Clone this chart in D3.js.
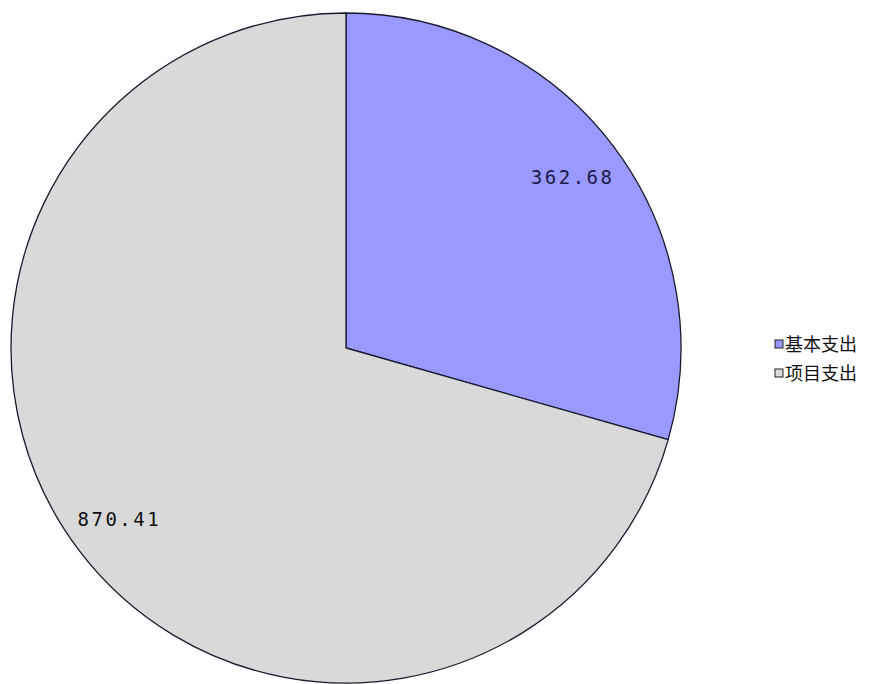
<!DOCTYPE html>
<html>
<head>
<meta charset="utf-8">
<script src="https://cdn.jsdelivr.net/npm/d3@7"></script>
<style>
body { margin: 0; background: #fff; }
</style>
</head>
<body>
<div id="chart"></div>
<script>
var svgWidth = 886;
var svgHeight = 684;

var categories = ["基本支出", "项目支出"];
var values = [362.68, 870.41];
var colors = ["#9999ff", "#d9d9d9"];

var cx = 346, cy = 348, radius = 335;

var svg = d3.select("#chart")
	.append("svg")
	.attr("width", svgWidth)
	.attr("height", svgHeight);

var pieGroup = svg.append("g")
	.attr("transform", `translate(${cx}, ${cy})`);

var pie = d3.pie().sort(null).value(d => d);
var arc = d3.arc().innerRadius(0).outerRadius(radius);
var labelArc = d3.arc().innerRadius(284).outerRadius(284);

var slices = pie(values);

pieGroup.selectAll("path")
	.data(slices)
	.enter()
	.append("path")
	.attr("d", arc)
	.attr("fill", (d, i) => colors[i])
	.attr("stroke", "#1a1a2e")
	.attr("stroke-width", 1.3);

pieGroup.selectAll("text")
	.data(slices)
	.enter()
	.append("text")
	.attr("transform", d => `translate(${labelArc.centroid(d)})`)
	.attr("text-anchor", "middle")
	.attr("dy", "0.38em")
	.style("font-family", "'DejaVu Sans Mono', monospace")
	.style("font-size", "19px")
	.style("letter-spacing", "2.5px")
	.attr("fill", (d, i) => i === 0 ? "#1a1a4a" : "#111")
	.text(d => d.data.toFixed(2));

// legend
var legend = svg.append("g")
	.attr("transform", "translate(775, 339)");

var items = legend.selectAll("g")
	.data(categories)
	.enter()
	.append("g")
	.attr("transform", (d, i) => `translate(0, ${i * 29})`);

items.append("rect")
	.attr("x", 0)
	.attr("y", 1)
	.attr("width", 8)
	.attr("height", 8)
	.attr("fill", (d, i) => colors[i])
	.attr("stroke", "#222")
	.attr("stroke-width", 1);

items.append("text")
	.attr("x", 10)
	.attr("y", 12)
	.style("font-family", "'Noto Sans CJK SC', sans-serif")
	.style("font-size", "18px")
	.attr("fill", "#111")
	.text(d => d);
</script>
</body>
</html>
